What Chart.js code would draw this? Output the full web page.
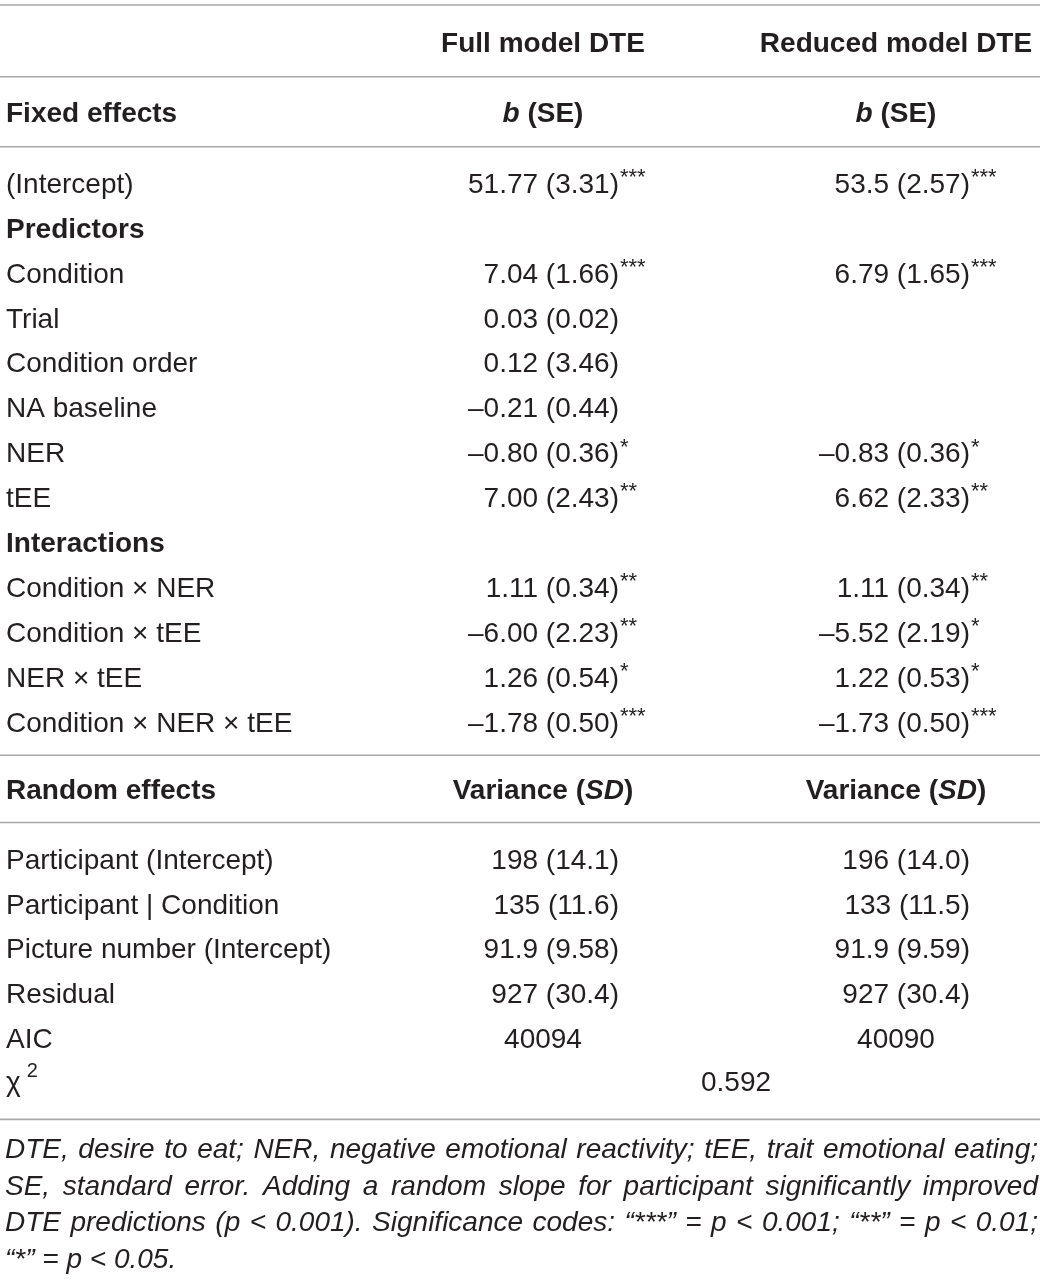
<!DOCTYPE html>
<html>
<head>
<meta charset="utf-8">
<script src="https://cdn.jsdelivr.net/npm/chart.js@4.4.0/dist/chart.umd.min.js"></script>
<style>
  html, body { margin: 0; padding: 0; background: #fff; }
  #wrap { position: relative; width: 1043px; height: 1279px; }
</style>
</head>
<body>
<div id="wrap"><canvas id="tableChart"></canvas></div>
<script>
// table content
const headFull = 'Full model DTE';
const headReduced = 'Reduced model DTE';
const fixedLabels = ['(Intercept)', 'Predictors', 'Condition', 'Trial', 'Condition order', 'NA baseline',
  'NER', 'tEE', 'Interactions', 'Condition × NER', 'Condition × tEE', 'NER × tEE', 'Condition × NER × tEE'];
const groupRows = ['Predictors', 'Interactions'];
const fullB = ['51.77 (3.31)', null, '7.04 (1.66)', '0.03 (0.02)', '0.12 (3.46)', '–0.21 (0.44)',
  '–0.80 (0.36)', '7.00 (2.43)', null, '1.11 (0.34)', '–6.00 (2.23)', '1.26 (0.54)', '–1.78 (0.50)'];
const fullSig = ['***', '', '***', '', '', '', '*', '**', '', '**', '**', '*', '***'];
const reducedB = ['53.5 (2.57)', null, '6.79 (1.65)', null, null, null,
  '–0.83 (0.36)', '6.62 (2.33)', null, '1.11 (0.34)', '–5.52 (2.19)', '1.22 (0.53)', '–1.73 (0.50)'];
const reducedSig = ['***', '', '***', '', '', '', '*', '**', '', '**', '*', '*', '***'];
const randomLabels = ['Participant (Intercept)', 'Participant | Condition', 'Picture number (Intercept)', 'Residual'];
const fullVar = ['198 (14.1)', '135 (11.6)', '91.9 (9.58)', '927 (30.4)'];
const reducedVar = ['196 (14.0)', '133 (11.5)', '91.9 (9.59)', '927 (30.4)'];
const aicValues = ['40094', '40090'];
const chiSquare = '0.592';
const footnote = [
  'DTE, desire to eat; NER, negative emotional reactivity; tEE, trait emotional eating;',
  'SE, standard error. Adding a random slope for participant significantly improved',
  'DTE predictions (p < 0.001). Significance codes: “***” = p < 0.001; “**” = p < 0.01;',
  '“*” = p < 0.05.'
];

// layout
const FONT = "'Liberation Sans', Arial, sans-serif";
const INK = '#231f20';
const COL = {label: 6, fullMid: 543, fullEnd: 619, redMid: 896, redEnd: 970, chiMid: 736, right: 1038};
const GAP = 0.78;

const cells = [];
const rules = [0.11];
let y = 0.96;

function put(x, segs, align){
  cells.push({x: x, y: y, segs: segs, align: align});
}

put(COL.fullMid, [[headFull, 'b']], 'center');
put(COL.redMid, [[headReduced, 'b']], 'center');
y += GAP - 0.03; rules.push(y); y += GAP + 0.03;

put(COL.label, [['Fixed effects', 'b']], 'left');
put(COL.fullMid, [['b', 'bi'], [' (SE)', 'b']], 'center');
put(COL.redMid, [['b', 'bi'], [' (SE)', 'b']], 'center');
y += GAP - 0.03; rules.push(y); y += GAP + 0.05;

fixedLabels.forEach((lab, i) => {
  put(COL.label, [[lab, groupRows.includes(lab) ? 'b' : 'r']], 'left');
  if(fullB[i]) put(COL.fullEnd, [[fullB[i], 'r'], [fullSig[i], 'sup']], 'right');
  if(reducedB[i]) put(COL.redEnd, [[reducedB[i], 'r'], [reducedSig[i], 'sup']], 'right');
  y += 1;
});
y -= 1;
y += GAP - 0.06; rules.push(y); y += GAP;

put(COL.label, [['Random effects', 'b']], 'left');
put(COL.fullMid, [['Variance (', 'b'], ['SD', 'bi'], [')', 'b']], 'center');
put(COL.redMid, [['Variance (', 'b'], ['SD', 'bi'], [')', 'b']], 'center');
y += GAP - 0.06; rules.push(y); y += GAP + 0.06;

randomLabels.forEach((lab, i) => {
  put(COL.label, [[lab, 'r']], 'left');
  put(COL.fullEnd, [[fullVar[i], 'r']], 'right');
  put(COL.redEnd, [[reducedVar[i], 'r']], 'right');
  y += 0.995;
});
put(COL.label, [['AIC', 'r']], 'left');
put(COL.fullMid, [[aicValues[0], 'r']], 'center');
put(COL.redMid, [[aicValues[1], 'r']], 'center');
y += 0.97;
put(COL.label, [['χ', 'r'], ['2', 'sup2']], 'left');
put(COL.chiMid, [[chiSquare, 'r']], 'center');
y += GAP + 0.04; rules.push(y);
y += 0.66;
footnote.forEach((line, i) => {
  put(COL.label - 1, [[line, 'i']], i < footnote.length - 1 ? 'justify' : 'left');
  y += 0.82;
});

function fontFor(style){
  if(style === 'b') return 'bold 28px ' + FONT;
  if(style === 'bi') return 'italic bold 28px ' + FONT;
  if(style === 'i') return 'italic 28px ' + FONT;
  if(style === 'sup') return '22px ' + FONT;
  if(style === 'sup2') return '20px ' + FONT;
  return '28px ' + FONT;
}

function drawSegs(ctx, segs, x, yy, align){
  let mainW = 0;
  const widths = segs.map(s => {
    ctx.font = fontFor(s[1]);
    const w = ctx.measureText(s[0]).width;
    if(s[1] !== 'sup') mainW += w;
    return w;
  });
  let cx = x;
  if(align === 'center') cx = x - mainW / 2;
  if(align === 'right') cx = x - mainW;
  segs.forEach((s, i) => {
    ctx.font = fontFor(s[1]);
    let dy = 0, dx = 0;
    if(s[1] === 'sup'){ dy = -7; dx = 1; }
    if(s[1] === 'sup2'){ dy = -12; dx = 6; }
    ctx.fillText(s[0], cx + dx, yy + dy);
    cx += widths[i];
  });
}

function drawJustified(ctx, text, x, yy, width){
  ctx.font = fontFor('i');
  const words = text.split(' ');
  const ws = words.map(w => ctx.measureText(w).width);
  const sum = ws.reduce((a, b) => a + b, 0);
  const space = ctx.measureText(' ').width;
  let scale = 1;
  if(sum + space * 0.7 * (words.length - 1) > width){
    scale = width / (sum + space * 0.7 * (words.length - 1));
  }
  const gap = (width - sum * scale) / (words.length - 1);
  ctx.save();
  ctx.translate(x, yy);
  ctx.scale(scale, 1);
  let cx = 0;
  words.forEach((w, i) => {
    ctx.fillText(w, cx, 0);
    cx += ws[i] + gap / scale;
  });
  ctx.restore();
}

const tablePlugin = {
  id: 'tableText',
  afterDatasetsDraw(chart){
    const ctx = chart.ctx;
    const meta = chart.getDatasetMeta(0);
    const right = chart.scales.x.getPixelForValue(COL.right);
    ctx.save();
    ctx.fillStyle = INK;
    ctx.textBaseline = 'middle';
    ctx.textAlign = 'left';
    meta.data.forEach((pt, i) => {
      const c = chart.data.datasets[0].data[i];
      if(c.align === 'justify'){
        drawJustified(ctx, c.segs[0][0], pt.x, pt.y + 1, right - pt.x);
      }else{
        drawSegs(ctx, c.segs, pt.x, pt.y + 1, c.align);
      }
    });
    ctx.restore();
  }
};

const datasets = [{
  data: cells,
  pointRadius: 0,
  showLine: false
}];
rules.forEach(r => {
  datasets.push({
    data: [{x: 0, y: r}, {x: 1040, y: r}],
    showLine: true,
    borderColor: '#a8a8a8',
    borderWidth: 1.6,
    pointRadius: 0
  });
});

new Chart(document.getElementById('tableChart'), {
  type: 'scatter',
  data: {datasets: datasets},
  options: {
    responsive: true,
    maintainAspectRatio: false,
    animation: false,
    events: [],
    layout: {padding: 0},
    plugins: {legend: {display: false}, tooltip: {enabled: false}},
    scales: {
      x: {type: 'linear', min: 0, max: 1043, display: false},
      y: {type: 'linear', min: 0, max: 1279 / 44.9, reverse: true, display: false}
    }
  },
  plugins: [tablePlugin]
});
</script>
</body>
</html>
